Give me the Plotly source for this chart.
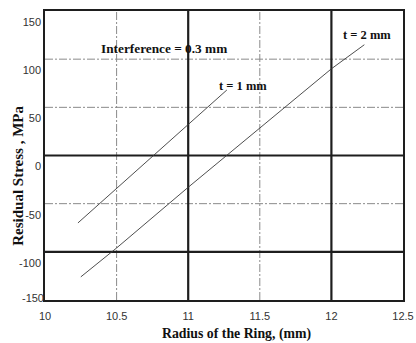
import plotly.graph_objects as go

# Data
t1_x = [10.23, 10.5, 11.0, 11.27]
t1_y = [-70, -34, 32, 68]
t2_x = [10.25, 10.5, 11.0, 11.5, 12.0, 12.23]
t2_y = [-126, -96, -33, 28, 90, 115]

x_ticks = [10, 10.5, 11, 11.5, 12, 12.5]
x_tick_text = ["10", "10.5", "11", "11.5", "12", "12.5"]
y_ticks = [150, 100, 50, 0, -50, -100]
y_tick_text = ["150", "100", "50", "0", "-50", "-100"]
y_bottom_tick = [-150]
y_bottom_text = ["-150"]

# grid lines (dash-dot thin vs. thick solid)
x_dash_grid = [10.5, 11.5]
x_solid_grid = [11, 12]
y_dash_grid = [100, 50, -50]
y_solid_grid = [0, -100]

serif = "Liberation Serif, Times New Roman, serif"
sans = "Liberation Sans, Arial, sans-serif"
tick_font = dict(family=sans, size=11, color="#333333")

fig = go.Figure()
line_style = dict(color="#3a3a3a", width=0.9)
fig.add_trace(go.Scatter(x=t1_x, y=t1_y, mode="lines", line=line_style, showlegend=False))
fig.add_trace(go.Scatter(x=t2_x, y=t2_y, mode="lines", line=line_style, showlegend=False))
fig.add_trace(go.Scatter(x=[None], y=[None], yaxis="y2", mode="lines", showlegend=False, hoverinfo="skip"))

shapes = []
dash_line = dict(color="#8a8a8a", width=1, dash="8px,2px,2px,2px")
solid_line = dict(color="#1e1e1e", width=2.2)
for xv in x_dash_grid:
    shapes.append(dict(type="line", xref="x", yref="paper", x0=xv, x1=xv, y0=0, y1=1, line=dash_line, layer="below"))
for yv in y_dash_grid:
    shapes.append(dict(type="line", xref="paper", yref="y", x0=0, x1=1, y0=yv, y1=yv, line=dash_line, layer="below"))
for xv in x_solid_grid:
    shapes.append(dict(type="line", xref="x", yref="paper", x0=xv, x1=xv, y0=0, y1=1, line=solid_line, layer="below"))
for yv in y_solid_grid:
    shapes.append(dict(type="line", xref="paper", yref="y", x0=0, x1=1, y0=yv, y1=yv, line=solid_line, layer="below"))

annotations = [
    dict(x=10.83, y=111.5, xref="x", yref="y", text="<b>Interference = 0.3 mm</b>", showarrow=False,
         font=dict(family=serif, size=13.3, color="#111111")),
    dict(x=11.38, y=72, xref="x", yref="y", text="<b>t = 1 mm</b>", showarrow=False,
         font=dict(family=serif, size=12.5, color="#111111")),
    dict(x=12.25, y=125, xref="x", yref="y", text="<b>t = 2 mm</b>", showarrow=False,
         font=dict(family=serif, size=12.5, color="#111111")),
    dict(x=0, xref="paper", xshift=-27, y=0.43, yref="paper", textangle=-90,
         text="<b>Residual Stress , MPa</b>", showarrow=False, xanchor="center", yanchor="middle",
         font=dict(family=serif, size=15, color="#111111")),
    dict(x=0.534, xref="paper", y=0, yref="paper", yshift=-34, xanchor="center", yanchor="middle",
         text="<b>Radius of the Ring, (mm)</b>", showarrow=False,
         font=dict(family=serif, size=13.8, color="#111111")),
]

fig.update_layout(
    width=416, height=343,
    margin=dict(l=45, r=13, t=11, b=43, autoexpand=False),
    paper_bgcolor="white", plot_bgcolor="white",
    shapes=shapes, annotations=annotations,
    showlegend=False,
    xaxis=dict(
        range=[10, 12.5], tickvals=x_ticks, ticktext=x_tick_text, automargin=False,
        showgrid=False, zeroline=False, showline=True, mirror=True,
        linecolor="#1e1e1e", linewidth=1.5, ticks="", ticklabelstandoff=5,
        tickfont=tick_font,
    ),
    yaxis=dict(
        range=[-150, 150], tickvals=y_ticks, ticktext=y_tick_text, ticklabelshift=11,
        ticklabelstandoff=0, automargin=False, tickfont=tick_font,
        showgrid=False, zeroline=False, showline=True, mirror=True,
        linecolor="#1e1e1e", linewidth=1.5, ticks="",
    ),
    yaxis2=dict(
        overlaying="y", side="left", range=[-150, 150], tickvals=y_bottom_tick,
        ticktext=y_bottom_text, ticklabelshift=-2, ticklabelstandoff=0, ticks="",
        showgrid=False, zeroline=False, showline=False, automargin=False,
        tickfont=tick_font,
    ),
)

fig.write_html("out.html")
